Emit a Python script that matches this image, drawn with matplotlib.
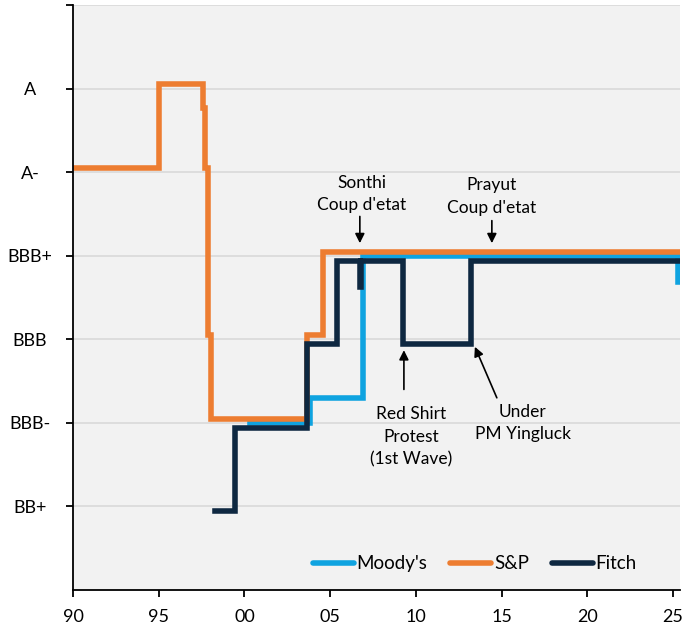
import matplotlib.pyplot as plt

plt.rcParams['font.family'] = ['Lato', 'DejaVu Sans']

# rating scale: BB=0, BB+=1, BBB-=2, BBB=3, BBB+=4, A-=5, A=6, A+=7
rating_labels = ['BB+', 'BBB-', 'BBB', 'BBB+', 'A-', 'A', '']
rating_levels = [1, 2, 3, 4, 5, 6, 7]

x_ticks = [1990, 1995, 2000, 2005, 2010, 2015, 2020, 2025]
x_labels = ['90', '95', '00', '05', '10', '15', '20', '25']

# Moody's
md_years = [2000.3, 2003.8, 2006.9, 2025.28]
md_rating = [2, 2.3, 4, 3.68]

# S&P
sp_years = [1990.0, 1995.0, 1997.58, 1997.7, 1997.87, 1998.05, 2003.64, 2004.58, 2025.6]
sp_rating = [5, 6, 5.72, 5, 3, 2, 3, 4, 4]

# Fitch
ft_years = [1998.3, 1999.45, 2003.64, 2005.39, 2006.73, 2006.8, 2009.24, 2013.2, 2025.6]
ft_rating = [1, 2, 3, 4, 3.69, 4, 3, 4, 4]

series = [
    ("Moody's", md_years, md_rating, '#0FA3E0', 0.0),
    ('S&P', sp_years, sp_rating, '#ED7D31', 0.05),
    ('Fitch', ft_years, ft_rating, '#0E2841', -0.06),
]


def graficar(save_path='out.png'):
    fig = plt.figure(figsize=(6.85, 6.27), dpi=100)
    ax = fig.add_axes([0.1066, 0.059, 0.886, 0.933])
    ax.set_facecolor('#F2F2F2')

    for nombre, xs, ys, color, off in series:
        ax.plot(xs, [y + off for y in ys], drawstyle='steps-post', color=color,
                lw=4.0, label=nombre, solid_joinstyle='miter')

    ax.set_xlim(1990, 2025.4)
    ax.set_ylim(0, 7)
    ax.set_xticks(x_ticks)
    ax.set_xticklabels(x_labels)
    ax.set_yticks(rating_levels)
    ax.set_yticklabels(rating_labels)
    ax.grid(axis='y', color='#D9D9D9', lw=1.2)
    ax.set_axisbelow(True)

    for s in ['top', 'right']:
        ax.spines[s].set_visible(False)
    for s in ['left', 'bottom']:
        ax.spines[s].set_linewidth(1.3)

    ax.tick_params(axis='both', labelsize=13, length=5, width=1.3, color='black')
    ax.tick_params(axis='x', pad=9)
    ax.tick_params(axis='y', pad=26)
    for lbl in ax.get_yticklabels():
        lbl.set_horizontalalignment('center')

    flecha = dict(arrowstyle='-|>', color='black', lw=1.2, mutation_scale=14, shrinkA=0, shrinkB=0)
    fs = 12.5

    ax.text(2006.85, 4.74, "Sonthi\nCoup d'etat", ha='center', va='center', fontsize=fs, linespacing=1.5)
    ax.annotate('', xy=(2006.73, 4.15), xytext=(2006.73, 4.47), arrowprops=flecha)

    ax.text(2014.43, 4.71, "Prayut\nCoup d'etat", ha='center', va='center', fontsize=fs, linespacing=1.5)
    ax.annotate('', xy=(2014.43, 4.15), xytext=(2014.43, 4.42), arrowprops=flecha)

    ax.text(2009.71, 1.835, "Red Shirt\nProtest\n(1st Wave)", ha='center', va='center', fontsize=fs, linespacing=1.5)
    ax.annotate('', xy=(2009.3, 2.87), xytext=(2009.3, 2.40), arrowprops=flecha)

    ax.text(2016.24, 2.0, "Under\nPM Yingluck", ha='center', va='center', fontsize=fs, linespacing=1.5)
    ax.annotate('', xy=(2013.44, 2.91), xytext=(2014.72, 2.30), arrowprops=flecha)

    leg = ax.legend(loc='center', bbox_to_anchor=(0.662, 0.045), ncol=3, frameon=False,
                    fontsize=13.5, handlelength=2.2, handletextpad=0.15, columnspacing=1.2)
    for h in leg.get_lines():
        h.set_solid_capstyle('round')

    fig.savefig(save_path, dpi=100)


if __name__ == "__main__":
    graficar()
